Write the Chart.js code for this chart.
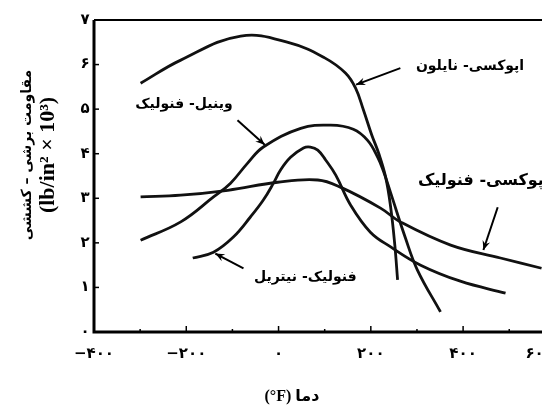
<!DOCTYPE html>
<html>
<head>
<meta charset="utf-8">
<script src="https://cdn.jsdelivr.net/npm/chart.js@4.4.0/dist/chart.umd.min.js"></script>
<style>
  html, body { margin: 0; padding: 0; background: #fff; overflow: hidden; }
  #wrap { position: relative; width: 542px; height: 407px; }
</style>
</head>
<body>
<div id="wrap"><canvas id="chart"></canvas></div>
<script>
/* --------------- Data (temperature °F, strength lb/in² x 10³) --------------- */
const nylonX = [-299, -212, -82, 26, 100, 145, 167, 184, 202, 217, 232, 243, 252, 258];
const nylonY = [5.58, 6.10, 6.64, 6.48, 6.15, 5.81, 5.47, 4.98, 4.42, 4.01, 3.48, 2.80, 1.95, 1.17];

const vinylX = [-299, -212, -141, -104, -67, -33, 48, 113, 162, 193, 215, 228, 243, 275, 301, 351];
const vinylY = [2.06, 2.47, 3.03, 3.34, 3.79, 4.15, 4.57, 4.64, 4.55, 4.30, 3.92, 3.59, 3.12, 2.11, 1.39, 0.45];

const nitrileX = [-186, -141, -98, -61, -33, -11, 4, 26, 54, 69, 85, 102, 124, 156, 199, 243, 308, 394, 492];
const nitrileY = [1.66, 1.79, 2.13, 2.58, 2.96, 3.34, 3.63, 3.92, 4.13, 4.15, 4.08, 3.86, 3.52, 2.85, 2.24, 1.91, 1.50, 1.14, 0.87];

const epoxyPhX = [-299, -212, -110, -2, 85, 134, 221, 264, 373, 481, 570];
const epoxyPhY = [3.03, 3.07, 3.18, 3.36, 3.41, 3.25, 2.78, 2.47, 1.95, 1.66, 1.43];

const seriesNames = ["اپوکسی- نایلون", "وینیل- فنولیک", "فنولیک- نیتریل", "اپوکسی- فنولیک"];

const xTicks = [-400, -200, 0, 200, 400, 600];
const yTicks = [0, 1, 2, 3, 4, 5, 6, 7];

/* --------------- Labels and arrows (data coords) --------------- */
const labels = [
  { text: seriesNames[0], x: 415, y: 5.95, align: "center", size: 14 },
  { text: seriesNames[1], x: -205, y: 5.1, align: "center", size: 14 },
  { text: seriesNames[3], x: 302, y: 3.4, align: "left", size: 16 },
  { text: seriesNames[2], x: 58, y: 1.22, align: "center", size: 14 },
];
const arrows = [
  { fromX: 264, fromY: 5.92, toX: 168, toY: 5.55 },
  { fromX: -89, fromY: 4.75, toX: -30, toY: 4.2 },
  { fromX: 475, fromY: 2.80, toX: 444, toY: 1.84 },
  { fromX: -76, fromY: 1.43, toX: -137, toY: 1.76 },
];

const toPersian = (n) => {
  const d = "۰۱۲۳۴۵۶۷۸۹";
  let s = String(Math.abs(n)).replace(/[0-9]/g, (c) => d[+c]);
  return (n < 0 ? "−" : "") + s;
};
const pts = (xs, ys) => xs.map((x, i) => ({ x: x, y: ys[i] }));

const lineStyle = {
  showLine: true,
  borderColor: "#111",
  borderWidth: 2.8,
  pointRadius: 0,
  fill: false,
  tension: 0.4,
};

const tickFont = "bold 15px 'DejaVu Sans'";

/* --------------- Custom drawing: frame, ticks, titles, labels --------------- */
const decor = {
  id: "decor",
  afterDatasetsDraw(chart) {
    const { ctx, chartArea: a, scales } = chart;
    const xs = scales.x, ys = scales.y;
    ctx.save();
    ctx.strokeStyle = "#000";
    ctx.fillStyle = "#000";
    // frame
    ctx.lineWidth = 3;
    ctx.beginPath();
    ctx.moveTo(a.left, a.top);
    ctx.lineTo(a.left, a.bottom);
    ctx.lineTo(a.right + 5, a.bottom);
    ctx.stroke();
    ctx.lineWidth = 2;
    ctx.beginPath();
    ctx.moveTo(a.left, a.top);
    ctx.lineTo(a.right + 5, a.top);
    ctx.stroke();
    // inward ticks
    ctx.lineWidth = 1.5;
    for (let v = -300; v <= 500; v += 100) {
      const px = xs.getPixelForValue(v);
      const len = v % 200 === 0 ? 6 : 3;
      ctx.beginPath();
      ctx.moveTo(px, a.bottom);
      ctx.lineTo(px, a.bottom - len);
      ctx.stroke();
    }
    for (let v = 1; v < 7; v++) {
      const py = ys.getPixelForValue(v);
      ctx.beginPath();
      ctx.moveTo(a.left, py);
      ctx.lineTo(a.left + 5, py);
      ctx.stroke();
    }
    // tick labels
    ctx.font = tickFont;
    ctx.textBaseline = "middle";
    xTicks.forEach((v, i) => {
      const last = i === xTicks.length - 1;
      ctx.textAlign = last ? "left" : "center";
      const px = xs.getPixelForValue(v) - (last ? 30 : 0);
      ctx.fillText(toPersian(v), px, a.bottom + 22);
    });
    ctx.textAlign = "center";
    for (const v of yTicks) {
      ctx.fillText(toPersian(v), a.left - 9, ys.getPixelForValue(v));
    }
    // arrows
    ctx.lineWidth = 2;
    for (const ar of arrows) {
      const x1 = xs.getPixelForValue(ar.fromX), y1 = ys.getPixelForValue(ar.fromY);
      const x2 = xs.getPixelForValue(ar.toX), y2 = ys.getPixelForValue(ar.toY);
      const ang = Math.atan2(y2 - y1, x2 - x1);
      ctx.beginPath();
      ctx.moveTo(x1, y1);
      ctx.lineTo(x2, y2);
      ctx.stroke();
      ctx.beginPath();
      ctx.moveTo(x2, y2);
      ctx.lineTo(x2 - 10 * Math.cos(ang - 0.4), y2 - 10 * Math.sin(ang - 0.4));
      ctx.lineTo(x2 - 6 * Math.cos(ang), y2 - 6 * Math.sin(ang));
      ctx.lineTo(x2 - 10 * Math.cos(ang + 0.4), y2 - 10 * Math.sin(ang + 0.4));
      ctx.closePath();
      ctx.fill();
    }
    // series labels
    for (const lb of labels) {
      ctx.font = "bold " + lb.size + "px 'DejaVu Sans'";
      ctx.textAlign = lb.align;
      ctx.fillText(lb.text, xs.getPixelForValue(lb.x), ys.getPixelForValue(lb.y));
    }
    // axis titles
    ctx.textAlign = "center";
    ctx.font = "bold 16px 'Liberation Serif', 'DejaVu Sans'";
    ctx.fillText("(°F) دما", 292, 397);
    ctx.save();
    ctx.translate(27, 155);
    ctx.rotate(-Math.PI / 2);
    ctx.font = "bold 14px 'DejaVu Sans'";
    ctx.fillText("مقاومت برشی – کششی", 0, 0);
    ctx.restore();
    ctx.save();
    ctx.translate(48, 155);
    ctx.rotate(-Math.PI / 2);
    ctx.font = "bold 22px 'Liberation Serif'";
    ctx.fillText("(lb/in² × 10³)", 0, 0);
    ctx.restore();
    ctx.restore();
  },
};

/* --------------- Chart --------------- */
new Chart(document.getElementById("chart"), {
  type: "scatter",
  plugins: [decor],
  data: {
    datasets: [
      { label: seriesNames[0], data: pts(nylonX, nylonY), ...lineStyle },
      { label: seriesNames[1], data: pts(vinylX, vinylY), ...lineStyle },
      { label: seriesNames[2], data: pts(nitrileX, nitrileY), ...lineStyle },
      { label: seriesNames[3], data: pts(epoxyPhX, epoxyPhY), ...lineStyle },
    ],
  },
  options: {
    responsive: true,
    maintainAspectRatio: false,
    animation: false,
    layout: { padding: { left: 0, top: 20, right: 0, bottom: 0 } },
    plugins: { legend: { display: false }, tooltip: { enabled: false } },
    scales: {
      x: {
        type: "linear",
        min: -400,
        max: 571,
        afterBuildTicks: (s) => { s.ticks = xTicks.slice(0, 5).map((v) => ({ value: v })); },
        afterFit: (s) => { s.height = 75; },
        grid: { display: false },
        border: { display: false },
        ticks: { display: false },
      },
      y: {
        type: "linear",
        min: 0,
        max: 7,
        afterBuildTicks: (s) => { s.ticks = yTicks.map((v) => ({ value: v })); },
        afterFit: (s) => { s.width = 94; },
        grid: { display: false },
        border: { display: false },
        ticks: { display: false },
      },
    },
  },
});
</script>
</body>
</html>
